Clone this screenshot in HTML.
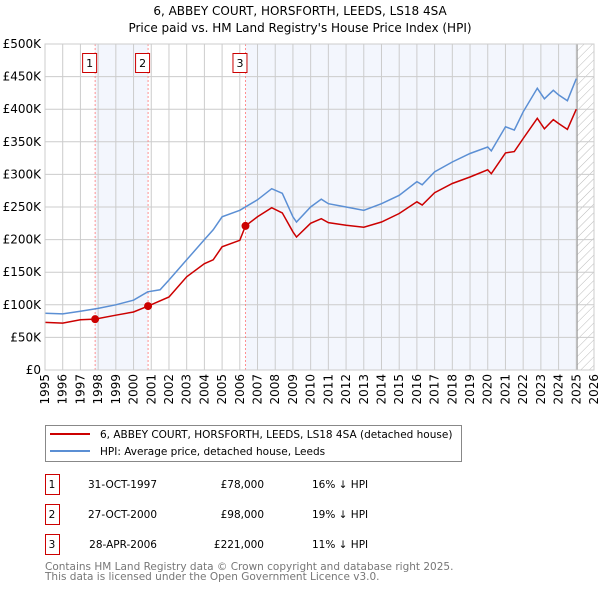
<!DOCTYPE html>
<html><head><meta charset="utf-8">
<style>
body{margin:0;background:#fff;font-family:"DejaVu Sans","Liberation Sans",sans-serif;}
svg text{font-family:"DejaVu Sans","Liberation Sans",sans-serif;}
</style></head>
<body>
<svg id="c" width="600" height="590" xmlns="http://www.w3.org/2000/svg">
<defs>
<pattern id="hatch" width="6" height="6" patternUnits="userSpaceOnUse" patternTransform="rotate(45)">
<line x1="0" y1="0" x2="0" y2="6" stroke="#bbb" stroke-width="1"/>
</pattern>
</defs>
<text x="300" y="15" text-anchor="middle" font-size="12">6, ABBEY COURT, HORSFORTH, LEEDS, LS18 4SA</text>
<text x="300" y="32" text-anchor="middle" font-size="12">Price paid vs. HM Land Registry's House Price Index (HPI)</text>
<g id="plot"></g>
<g>
<rect x="45.5" y="425.5" width="416" height="36" fill="#fff" stroke="#888"/>
<line x1="50" y1="434" x2="90" y2="434" stroke="#cc0000" stroke-width="2"/>
<text x="100" y="438" font-size="10.5">6, ABBEY COURT, HORSFORTH, LEEDS, LS18 4SA (detached house)</text>
<line x1="50" y1="451" x2="90" y2="451" stroke="#5b8fd4" stroke-width="2"/>
<text x="100" y="455" font-size="10.5">HPI: Average price, detached house, Leeds</text>
</g>
<g id="table" font-size="10.5"></g>
<text x="45" y="570" font-size="10.5" fill="#777">Contains HM Land Registry data © Crown copyright and database right 2025.</text>
<text x="45" y="580" font-size="10.5" fill="#777">This data is licensed under the Open Government Licence v3.0.</text>
</svg>
<script>
const hpiYears=[1995,1996,1997,1998,1999,2000,2000.8,2001.5,2002,2003,2004,2004.5,2005,2006,2007,2007.8,2008.4,2009,2009.2,2010,2010.6,2011,2012,2013,2014,2015,2016,2016.3,2017,2018,2019,2020,2020.2,2021,2021.5,2022,2022.8,2023.2,2023.7,2024,2024.5,2025];
const hpiValues=[87,86,90,94.5,100,107,120,123,138,169,200,215,235,245,261,278,271,235,227,250,262,255,250,245,255,268,289,284,304,319,332,342,336,373,368,396,432,416,429,422,413,447];
const propYears=[1995,1996,1997,1997.83,1999,2000,2000.82,2002,2003,2004,2004.5,2005,2006,2006.32,2007,2007.8,2008.4,2009,2009.2,2010,2010.6,2011,2012,2013,2014,2015,2016,2016.3,2017,2018,2019,2020,2020.2,2021,2021.5,2022,2022.8,2023.2,2023.7,2024,2024.5,2025];
const propValues=[73,72,77,78,84,89,98,112,143,163,169,189,199,221,235,249,241,212,204,225,232,226,222,219,227,240,258,253,272,286,296,307,301,333,335,355,386,370,384,378,369,400];
const saleLabels=["1","2","3"];
const saleYears=[1997.83,2000.82,2006.32];
const saleValues=[78,98,221];
const saleDates=["31-OCT-1997","27-OCT-2000","28-APR-2006"];
const salePrices=["£78,000","£98,000","£221,000"];
const saleDiffs=["16% ↓ HPI","19% ↓ HPI","11% ↓ HPI"];
const yTicks=[0,50,100,150,200,250,300,350,400,450,500];
const yTickLabels=["£0","£50K","£100K","£150K","£200K","£250K","£300K","£350K","£400K","£450K","£500K"];
const xTicks=[1995,1996,1997,1998,1999,2000,2001,2002,2003,2004,2005,2006,2007,2008,2009,2010,2011,2012,2013,2014,2015,2016,2017,2018,2019,2020,2021,2022,2023,2024,2025,2026];
const dataEnd=2025.05;

const X0=45,X1=594,Y0=370,Y1=44;
const xs=y=>X0+(y-1995)/(2026-1995)*(X1-X0);
const ys=v=>Y0-v/500*(Y0-Y1);
const NS="http://www.w3.org/2000/svg";
const plot=document.getElementById('plot');
function mk(tag,attrs,parent){const e=document.createElementNS(NS,tag);for(const k in attrs)e.setAttribute(k,attrs[k]);(parent||plot).appendChild(e);return e;}

let bg=mk('rect',{x:X0,y:Y1,width:X1-X0,height:Y0-Y1,fill:'#fff'});


let s1=mk('rect',{x:xs(saleYears[0]),y:Y1,width:xs(saleYears[1])-xs(saleYears[0]),height:Y0-Y1,fill:'#f3f6fd'});


let s3=mk('rect',{x:xs(saleYears[2]),y:Y1,width:xs(dataEnd)-xs(saleYears[2]),height:Y0-Y1,fill:'#f3f6fd'});


let hz=mk('rect',{x:xs(dataEnd),y:Y1,width:X1-xs(dataEnd),height:Y0-Y1,fill:'url(#hatch)'});



yTicks.forEach((t,i)=>{
 let l=mk('line',{x1:X0,x2:X1,y1:ys(t),y2:ys(t),stroke:'#ccc','stroke-width':1});
 
 
 let tx=mk('text',{x:X0-4,y:ys(t)+4,'text-anchor':'end','font-size':12});
 tx.textContent=yTickLabels[i];
 
 
});
xTicks.forEach(t=>{
 let l=mk('line',{x1:xs(t),x2:xs(t),y1:Y1,y2:Y0,stroke:'#ccc','stroke-width':1});
 
 
 let tx=mk('text',{x:0,y:0,'text-anchor':'end','font-size':12,transform:`translate(${xs(t)+4},374) rotate(-90)`});
 tx.textContent=t;
 
 
});
let el=mk('line',{x1:xs(dataEnd),x2:xs(dataEnd),y1:Y1,y2:Y0,stroke:'#999','stroke-width':1});



saleYears.forEach((y,i)=>{
 let l=mk('line',{x1:xs(y),x2:xs(y),y1:Y1,y2:Y0,stroke:'#f77','stroke-width':0.8,'stroke-dasharray':'2,2'});
 
 
 let b=mk('rect',{x:xs(y)-12.5,y:53.5,width:14,height:19,fill:'#fff',stroke:'#c00'});
 
 
 let t=mk('text',{x:xs(y)-5.5,y:67,'text-anchor':'middle','font-size':11});
 t.textContent=saleLabels[i];
 
 
});

const pts=(xa,va)=>xa.map((x,i)=>xs(x).toFixed(1)+','+ys(va[i]).toFixed(1)).join(' ');
let hl=mk('polyline',{points:pts(hpiYears,hpiValues),fill:'none',stroke:'#5b8fd4','stroke-width':1.5});


let pl=mk('polyline',{points:pts(propYears,propValues),fill:'none',stroke:'#cc0000','stroke-width':1.5});


saleYears.forEach((y,i)=>{
 let c=mk('circle',{cx:xs(y),cy:ys(saleValues[i]),r:4,fill:'#cc0000'});
 
 
});
let fr=mk('rect',{x:X0,y:Y1,width:X1-X0,height:Y0-Y1,fill:'none',stroke:'#ccc'});



const tb=document.getElementById('table');
saleLabels.forEach((s,i)=>{
 const yy=483+i*30;
 let b=mk('rect',{x:45.5,y:yy-8.5,width:14,height:20,fill:'#fff',stroke:'#c00'},tb);
 
 
 const cells=[[52,s,'middle'],[157,saleDates[i],'end'],[264,salePrices[i],'end'],[312,saleDiffs[i],'start']];
 cells.forEach(c=>{
  let t=mk('text',{x:c[0],y:yy+5,'text-anchor':c[2]},tb);
  t.textContent=c[1];
  
  
 });
});
</script>
</body></html>
